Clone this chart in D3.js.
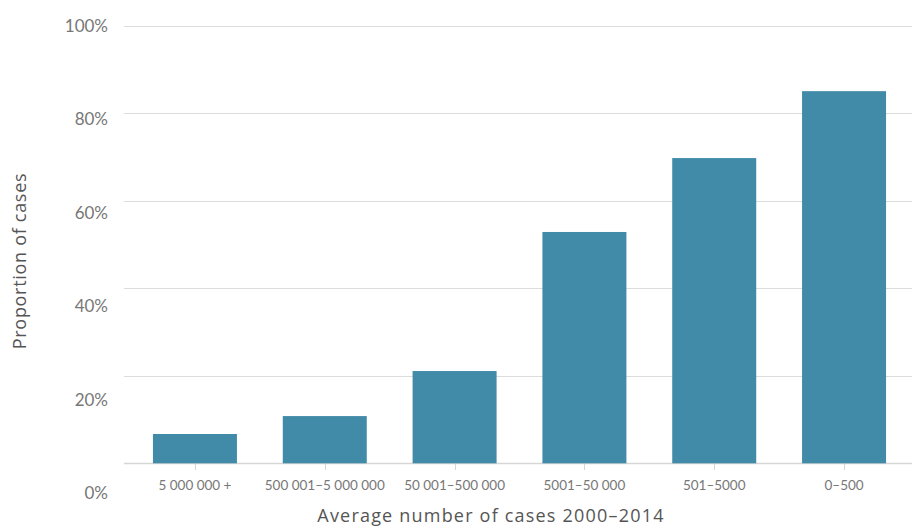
<!DOCTYPE html>
<html>
<head>
<meta charset="utf-8">
<script src="https://cdn.jsdelivr.net/npm/d3@7"></script>
<style>
  body { margin: 0; background: #fff; }
  svg { display: block; font-family: Lato, 'Open Sans', sans-serif; }
</style>
</head>
<body>
<svg id="chart"></svg>
<script>
(function () {
  // Data
  var categories = ['5 000 000 +', '500 001–5 000 000', '50 001–500 000', '5001–50 000', '501–5000', '0–500']
  var values = [6.7, 10.8, 21.1, 52.9, 69.8, 85.1]
  var yTicks = [0, 20, 40, 60, 80, 100]

  var WIDTH = 912
  var HEIGHT = 527
  var BAR_COLOR = '#428ba8'

  var svg = d3.select('#chart')
    .attr('width', WIDTH)
    .attr('height', HEIGHT)

  var x = d3.scaleBand()
    .domain(categories)
    .range([124, 915])
    .paddingInner(0.353)
    .paddingOuter(0.223)

  var y = d3.scaleLinear()
    .domain([0, 100])
    .range([463.3, 26])

  // labels sit on their own spacing in the original
  var yLabel = d3.scaleLinear()
    .domain([0, 100])
    .range([493, 26])

  // Gridlines
  svg.append('g')
    .selectAll('line')
    .data(yTicks)
    .enter().append('line')
    .attr('x1', 124)
    .attr('x2', WIDTH)
    .attr('y1', function (d) { return Math.round(y(d)) + 0.5 })
    .attr('y2', function (d) { return Math.round(y(d)) + 0.5 })
    .style('stroke', function (d) { return d === 0 ? '#d6d6d6' : '#dcdcdc' })
    .style('stroke-width', function (d) { return d === 0 ? 1.5 : 1 })

  // Y labels
  svg.append('g')
    .selectAll('text')
    .data(yTicks)
    .enter().append('text')
    .attr('x', 108)
    .attr('y', function (d) { return yLabel(d) })
    .attr('dy', '0.35em')
    .attr('text-anchor', 'end')
    .style('font-size', '17px')
    .style('fill', '#777')
    .text(function (d) { return d + '%' })

  // Bars
  svg.append('g')
    .selectAll('rect')
    .data(values)
    .enter().append('rect')
    .attr('x', function (d, i) { return x(categories[i]) })
    .attr('width', x.bandwidth())
    .attr('y', function (d) { return y(d) })
    .attr('height', function (d) { return y(0) - y(d) })
    .style('fill', BAR_COLOR)

  // X axis ticks + labels
  var xg = svg.append('g')
  xg.selectAll('line')
    .data(categories)
    .enter().append('line')
    .attr('x1', function (d) { return Math.round(x(d) + x.bandwidth() / 2) + 0.5 })
    .attr('x2', function (d) { return Math.round(x(d) + x.bandwidth() / 2) + 0.5 })
    .attr('y1', 464)
    .attr('y2', 470)
    .style('stroke', '#d6d6d6')

  xg.selectAll('text')
    .data(categories)
    .enter().append('text')
    .attr('x', function (d) { return x(d) + x.bandwidth() / 2 })
    .attr('y', 485)
    .attr('dy', '0.35em')
    .attr('text-anchor', 'middle')
    .style('font-size', '13.5px')
    .style('fill', '#777')
    .text(function (d) { return d })

  // Axis titles
  svg.append('text')
    .attr('x', 491)
    .attr('y', 516)
    .attr('dy', '0.35em')
    .attr('text-anchor', 'middle')
    .style('font-family', "'Open Sans', sans-serif")
    .style('font-size', '18px')
    .style('letter-spacing', '1.2px')
    .style('fill', '#555')
    .text('Average number of cases 2000–2014')

  svg.append('text')
    .attr('transform', 'translate(20,261) rotate(-90)')
    .attr('dy', '0.35em')
    .attr('text-anchor', 'middle')
    .style('font-family', "'Open Sans', sans-serif")
    .style('font-size', '18px')
    .style('letter-spacing', '0.7px')
    .style('fill', '#555')
    .text('Proportion of cases')
})()
</script>
</body>
</html>
